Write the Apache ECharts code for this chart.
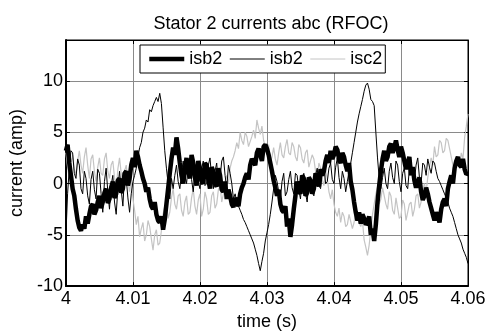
<!DOCTYPE html>
<html>
<head>
<meta charset="utf-8">
<script src="https://cdn.jsdelivr.net/npm/echarts@6/dist/echarts.min.js"></script>
<style>html,body{margin:0;padding:0;background:#fff}#c{width:489px;height:336px}</style>
</head>
<body>
<div id="c"></div>
<script>
// time axis sampling: 4.000 s to 4.060 s, step 0.25 ms
const tStart = 4.0, tStep = 0.00025, nPts = 241;
const xTicks = ['4','4.01','4.02','4.03','4.04','4.05','4.06'];
const yTicks = ['-10','-5','0','5','10'];

// thick black trace (isb2)
const isb2Thick = [
 3.2,3.8, 2.0,0.8, -0.5,-1.2, -2.5,-3.6, -4.3,-4.6, -4.0,-4.4, -3.2,-3.9, -3.0,-2.2, -2.0,-3.0, -2.6,-1.8,
 -1.2,-2.4, -1.8,-0.9, -0.5,-1.9, -1.5,-0.4, 0.2,-1.4, -1.0,0.3, 0.5,-0.9, -0.5,1.0, 1.2,-0.2, 0.5,1.8,
 2.5,1.6, 3.2,2.6, 1.8,1.2, 0.5,0.0, -0.8,-0.4, -1.5,-2.2, -2.5,-1.8, -3.0,-3.6, -3.8,-3.2, -4.5,-3.5,
 -2.0,-0.5, 1.0,2.4, 3.5,2.8, 4.5,3.4, 2.0,0.8, 0.0,1.4, 2.5,1.2, 0.5,2.8, 2.0,0.6, -0.2,2.2,
 1.5,0.2, 0.0,2.0, 1.8,0.4, -0.5,1.6, 1.2,0.0, -0.3,1.5, 0.8,-0.6, -0.8,0.2, -1.5,-0.6, -1.2,-2.0,
 -2.3,-1.4, -1.8,-2.2, -1.0,-0.4, 0.0,0.6, 1.0,0.4, 1.8,2.4, 2.5,1.8, 3.0,3.4, 2.8,2.2, 3.6,3.8,
 3.4,2.8, 2.0,1.2, 0.3,-0.4, -1.2,-0.6, -2.0,-2.6, -2.8,-2.2, -4.2,-3.4, -5.2,-4.0, -2.5,-1.2, 0.2,-0.6,
 -1.0,0.8, 0.5,-1.2, -0.9,0.6, 0.3,-1.0, -0.5,1.0, 0.6,-0.3, 1.4,0.8, 1.2,2.2, 2.8,2.0, 3.2,2.4,
 2.8,3.6, 3.3,2.4, 2.0,3.0, 2.6,1.8, 1.2,2.0, 0.2,-0.6, -1.8,-2.8, -3.6,-2.8, -3.9,-3.0, -3.4,-4.0,
 -3.8,-3.2, -5.0,-4.4, -5.6,-4.0, -1.8,-0.2, 1.2,2.4, 3.2,2.2, 2.6,3.6, 3.9,3.0, 3.5,4.2, 3.3,2.6,
 3.6,3.0, 2.2,1.4, 2.0,2.6, 0.8,1.6, 0.3,-0.4, -0.3,0.6, -0.8,-1.6, -1.2,-0.4, -1.0,-1.8, -2.4,-3.0,
 -3.6,-2.8, -3.2,-3.8, -2.5,-1.8, -1.5,-2.2, -0.5,0.2, 0.8,0.0, 1.5,2.2, 2.6,1.8, 1.6,2.4, 1.4,0.9,
 1.0
];
// thin black trace (isb2)
const isb2Thin = [
 -5.0,-1.0, 1.5,3.2, 3.0,1.0, 0.5,2.4, 1.8,-0.5, -1.0,1.2, 0.5,-1.2, -2.0,0.4, 1.2,-0.6, -1.5,1.4,
 1.0,-1.0, -2.8,0.2, 1.5,-0.8, -2.5,-0.2, 0.8,-1.8, -3.0,-0.5, 1.2,-0.6, -2.2,0.9, 0.5,-1.4, -2.8,-1.0,
 0.2,0.8, 1.5,2.6, 3.5,4.0, 5.0,5.4, 6.2,6.0, 7.2,7.0, 7.6,8.0, 8.4,8.0, 8.8,7.8, 5.5,3.2,
 1.5,0.0, -1.5,0.5, -0.5,0.8, 1.8,0.2, -0.5,1.0, 2.2,0.8, 0.0,1.6, 2.5,0.4, -0.8,1.2, 2.0,0.2,
 -0.5,1.4, 2.2,-0.2, 0.0,1.8, 2.5,0.6, -0.5,1.2, 2.0,-0.2, 0.5,2.2, 2.6,0.8, -0.5,1.8, 1.0,0.0,
 -1.5,-1.0, -1.8,-2.2, -2.6,-3.0, -3.5,-3.8, -4.2,-4.6, -5.0,-5.4, -5.8,-6.4, -7.0,-7.8, -8.5,-7.6, -6.8,-5.6,
 -4.8,-4.0, -3.0,-1.8, -0.5,0.8, 0.2,-0.8, -1.5,0.2, 1.0,-1.2, -0.8,0.4, 1.2,-0.4, -1.0,1.0, 0.8,-0.6,
 -1.5,0.4, 1.0,-0.9, -1.8,0.2, 0.5,-0.8, -1.2,0.8, 1.5,-0.2, -0.5,1.0, 1.8,0.0, 0.2,1.5, 2.0,0.4,
 0.0,1.6, 2.5,0.6, -0.5,1.2, 0.5,-0.8, 0.2,1.2, 2.0,3.0, 4.0,5.0, 6.0,6.8, 7.5,8.2, 9.0,9.6,
 9.8,9.2, 8.2,8.0, 7.6,5.0, 2.5,0.5, -0.5,0.6, 1.5,0.0, -0.5,1.2, 2.0,0.6, 0.0,2.2, 1.8,0.2,
 -0.8,1.0, 1.5,-0.2, -0.5,1.4, 2.2,0.8, 0.2,1.8, 2.5,0.6, 0.0,2.0, 1.8,0.8, 2.4,1.6, 1.0,2.2,
 2.0,1.2, 0.5,0.2, -0.2,-0.6, -1.0,-1.4, -1.8,-2.4, -2.8,-3.2, -3.8,-4.4, -5.0,-5.4, -5.8,-6.4, -6.8,-7.2,
 -7.8
];
// light grey trace (isc2)
const isc2 = [
 3.0,1.6, 0.5,2.0, 2.8,1.4, 0.8,2.2, 3.2,1.8, 1.0,2.6, 3.5,1.8, 0.5,2.4, 2.8,1.2, 0.2,1.6,
 2.5,1.0, 0.8,2.4, 3.0,1.2, 0.5,1.8, 2.2,0.6, -0.5,1.4, 2.5,1.0, 0.2,1.2, 1.8,0.2, -0.8,0.5,
 -1.5,-2.6, -4.0,-3.2, -5.2,-4.4, -3.8,-5.6, -5.0,-3.6, -4.2,-5.4, -6.5,-5.0, -4.5,-6.0, -5.8,-4.6, -3.0,-2.2,
 -1.8,-3.4, -2.8,-1.4, -0.5,-2.0, -2.5,-1.2, -1.0,-2.6, -3.2,-1.8, -1.2,-3.0, -2.8,-1.4, -0.5,-2.2, -3.0,-1.6,
 -1.0,-3.2, -2.5,-0.8, -1.5,-3.0, -2.8,-1.2, -0.8,-2.4, -2.0,-0.6, -0.2,-1.8, -1.0,0.2, 0.8,0.0, 1.5,2.2,
 2.6,3.2, 4.0,3.4, 5.0,4.2, 3.8,5.0, 4.6,3.6, 3.5,4.6, 5.2,4.4, 6.2,5.4, 4.8,5.6, 4.2,3.6,
 2.8,3.8, 2.0,2.6, 3.5,2.4, 1.8,3.0, 4.0,2.8, 2.5,3.6, 4.3,3.0, 2.8,4.0, 3.6,2.6, 2.2,3.8,
 3.5,2.4, 2.0,3.0, 3.3,1.6, 1.5,2.8, 2.4,1.2, 0.5,2.0, 1.5,0.4, -0.2,1.2, 0.5,-0.8, -1.5,-0.6,
 -2.0,-2.8, -3.2,-2.4, -3.8,-2.8, -3.2,-4.2, -4.0,-3.0, -3.0,-4.4, -3.8,-2.6, -3.0,-3.8, -4.2,-3.6, -5.5,-6.2,
 -7.0,-6.0, -4.5,-3.0, -2.0,-1.0, -0.3,-2.0, -1.5,-0.4, -0.5,-2.0, -2.5,-0.8, -1.2,-2.6, -3.0,-1.4, -1.5,-3.4,
 -3.2,-1.6, -2.0,-3.6, -3.5,-2.0, -1.8,-3.2, -2.5,-1.2, -1.0,-2.4, -1.8,-0.6, 0.0,-0.8, 0.6,1.6, 2.5,1.8,
 3.6,2.6, 2.8,4.2, 4.0,3.0, 3.2,4.4, 4.2,3.4, 2.6,1.8, 1.3,2.6, 2.2,1.6, 3.0,2.4, 4.5,5.6,
 6.8
];

const time = [];
for (let i = 0; i < nPts; i++) time.push(+(tStart + i * tStep).toFixed(5));
const pairs = arr => arr.map((v, i) => [time[i], v]);

const FONT = 'Liberation Sans, Arial, sans-serif';
const chart = echarts.init(document.getElementById('c'), null, {renderer: 'canvas'});
const xFmt = v => { const s = (+v).toFixed(2).replace(/0+$/,'').replace(/\.$/,''); return xTicks.includes(s) ? s : ''; };
const yFmt = v => { const s = String(Math.round(v)); return (yTicks.includes(s) && Math.abs(v - Math.round(v)) < 1e-6) ? s : ''; };
const hideSym = {opacity: 0, color: 'rgba(0,0,0,0)', borderWidth: 0};

chart.setOption({
  animation: false,
  backgroundColor: '#fff',
  title: {
    text: 'Stator 2 currents abc (RFOC)',
    left: 266, top: 10, textAlign: 'center',
    textStyle: {fontFamily: FONT, fontSize: 18, fontWeight: 'normal', color: '#000'}
  },
  legend: {
    left: 140, top: 45,
    data: [
      {name: 'isb2', itemStyle: hideSym, lineStyle: {width: 4.5, color: '#000'}},
      {name: 'isb2 ', itemStyle: hideSym, lineStyle: {width: 1, color: '#000'}},
      {name: 'isc2', itemStyle: hideSym, lineStyle: {width: 1, color: '#c4c4c4'}}
    ],
    formatter: n => n.trim(),
    itemWidth: 35, itemHeight: 14, itemGap: 7,
    padding: [5, 3, 5, 7],
    borderColor: '#000', borderWidth: 1, backgroundColor: '#fff',
    textStyle: {fontFamily: FONT, fontSize: 18, color: '#000'}
  },
  grid: {left: 64, right: 21, top: 40, bottom: 47, show: true, borderColor: '#000', borderWidth: 1},
  xAxis: [{
    type: 'value', min: 4, max: 4.06, interval: 0.01,
    name: 'time (s)', nameLocation: 'middle', nameGap: 20,
    nameTextStyle: {fontFamily: FONT, fontSize: 18, color: '#000'},
    axisLine: {show: true, onZero: false, lineStyle: {color: '#000', width: 2}},
    axisTick: {inside: true, length: 4, lineStyle: {color: '#000'}},
    axisLabel: {formatter: xFmt, fontFamily: FONT, fontSize: 18, color: '#000', margin: 4},
    splitLine: {show: true, lineStyle: {color: '#8a8a8a', width: 1}}
  }, {
    type: 'value', position: 'top', min: 4, max: 4.06, interval: 0.01,
    axisLine: {show: true, onZero: false, lineStyle: {color: '#000', width: 1}},
    axisTick: {inside: true, length: 4, lineStyle: {color: '#000'}},
    axisLabel: {show: false}, splitLine: {show: false}
  }],
  yAxis: [{
    type: 'value', min: -10, max: 14, interval: 5,
    name: 'current (amp)', nameLocation: 'middle', nameGap: 36,
    nameTextStyle: {fontFamily: FONT, fontSize: 18, color: '#000'},
    axisLine: {show: true, onZero: false, lineStyle: {color: '#000', width: 2}},
    axisTick: {inside: true, length: 4, lineStyle: {color: '#000'}},
    axisLabel: {formatter: yFmt, fontFamily: FONT, fontSize: 18, color: '#000', margin: 3, showMaxLabel: false},
    splitLine: {show: true, lineStyle: {color: '#8a8a8a', width: 1}}
  }, {
    type: 'value', position: 'right', min: -10, max: 14, interval: 5,
    axisLine: {show: true, onZero: false, lineStyle: {color: '#000', width: 1}},
    axisTick: {inside: true, length: 4, lineStyle: {color: '#000'}},
    axisLabel: {show: false}, splitLine: {show: false}
  }],
  series: [
    {name: 'isb2', type: 'line', data: pairs(isb2Thick), symbol: 'none', color: '#000',
     lineStyle: {color: '#000', width: 4.5}, z: 3},
    {name: 'isb2 ', type: 'line', data: pairs(isb2Thin), symbol: 'none', color: '#000',
     lineStyle: {color: '#000', width: 1}, z: 4},
    {name: 'isc2', type: 'line', data: pairs(isc2), symbol: 'none', color: '#c4c4c4',
     lineStyle: {color: '#c4c4c4', width: 1.2}, z: 2}
  ]
});
</script>
</body>
</html>
